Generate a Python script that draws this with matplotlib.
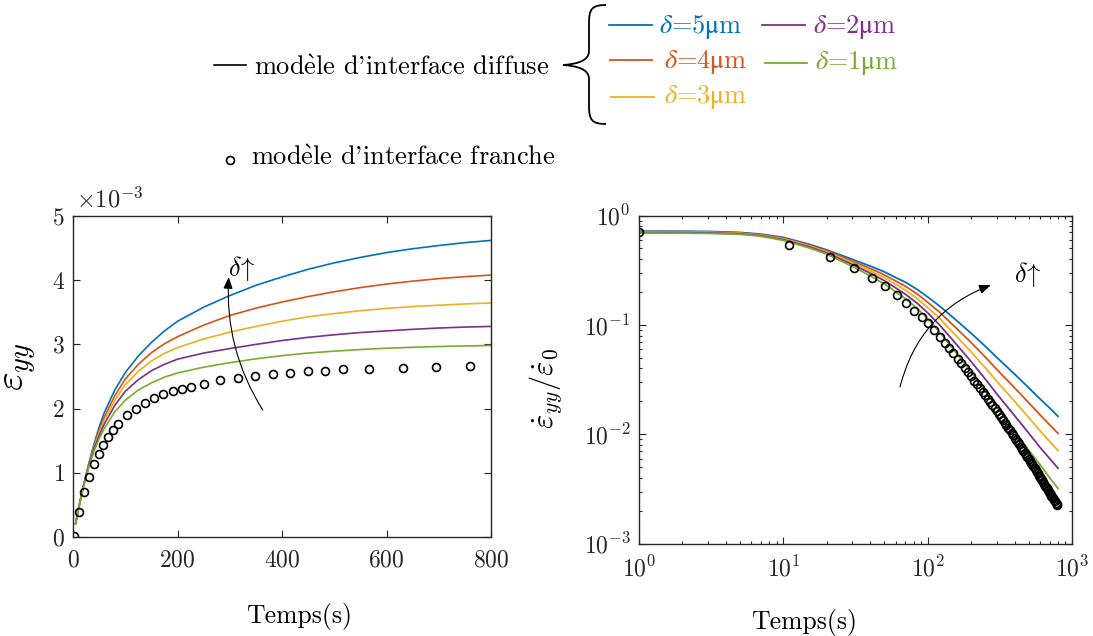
import numpy as np
import matplotlib
matplotlib.use('Agg')
import matplotlib.pyplot as plt
from matplotlib.lines import Line2D
from matplotlib.path import Path
from matplotlib.patches import PathPatch

plt.rcParams['font.family'] = ['cmr10', 'DejaVu Serif']
plt.rcParams['mathtext.fontset'] = 'cm'
plt.rcParams['axes.formatter.use_mathtext'] = True
plt.rcParams['axes.unicode_minus'] = True

# ---- data ----
deltas = ['5', '4', '3', '2', '1']
colors = ['#0072BD', '#D95319', '#EDB120', '#7E2F8E', '#77AC30']

# left panel : strain (x 1e-3) vs time
t_strain = [5, 10, 20, 30, 40, 50, 60, 80, 100, 125, 150, 175, 200, 250, 300, 350, 400, 450, 500,
            550, 600, 650, 700, 750, 800]
eps_d5 = [0.21, 0.42, 0.80, 1.14, 1.44, 1.71, 1.94, 2.29, 2.56, 2.82, 3.03, 3.21, 3.36, 3.58, 3.76,
          3.92, 4.05, 4.17, 4.27, 4.355, 4.43, 4.49, 4.54, 4.585, 4.62]
eps_d4 = [0.21, 0.42, 0.80, 1.12, 1.41, 1.66, 1.87, 2.20, 2.46, 2.69, 2.87, 3.01, 3.12, 3.30, 3.45,
          3.565, 3.66, 3.745, 3.82, 3.885, 3.94, 3.985, 4.025, 4.055, 4.08]
eps_d3 = [0.21, 0.42, 0.79, 1.11, 1.39, 1.62, 1.82, 2.13, 2.37, 2.58, 2.74, 2.86, 2.95, 3.085, 3.19,
          3.28, 3.36, 3.43, 3.48, 3.525, 3.56, 3.59, 3.61, 3.63, 3.645]
eps_d2 = [0.21, 0.42, 0.79, 1.10, 1.37, 1.58, 1.76, 2.05, 2.27, 2.45, 2.59, 2.69, 2.77, 2.865, 2.935,
          3.00, 3.06, 3.11, 3.15, 3.185, 3.21, 3.235, 3.255, 3.27, 3.28]
eps_d1 = [0.21, 0.42, 0.78, 1.08, 1.33, 1.53, 1.69, 1.95, 2.13, 2.29, 2.40, 2.49, 2.555, 2.645, 2.715,
          2.775, 2.825, 2.865, 2.895, 2.92, 2.94, 2.955, 2.967, 2.976, 2.983]

t_sharp = [1, 11.5, 21, 30.6, 40, 49, 58, 67, 76.5, 86, 103, 121, 138, 155.5, 173, 190.6, 208, 225,
           250, 282, 316, 349, 382.5, 416, 449, 483, 516, 567, 632, 695, 759]
eps_sharp = [0.01, 0.39, 0.70, 0.94, 1.13, 1.30, 1.44, 1.56, 1.66, 1.76, 1.90, 2.00, 2.09, 2.16, 2.22, 2.27,
             2.31, 2.34, 2.39, 2.44, 2.48, 2.51, 2.54, 2.56, 2.58, 2.59, 2.61, 2.62, 2.64, 2.65, 2.67]

# right panel : normalised strain rate vs time (log-log)
t_rate = [1, 2, 3, 5, 7, 10, 15, 20, 30, 40, 50, 60, 70, 85, 100, 120, 150, 200, 250, 300, 400, 500,
          600, 700, 800]
rate_d5 = [0.719, 0.718, 0.715, 0.700, 0.676, 0.631, 0.547, 0.485, 0.398, 0.345, 0.306, 0.271, 0.246,
           0.210, 0.180, 0.150, 0.117, 0.0839, 0.0640, 0.0507, 0.0355, 0.0267, 0.0211, 0.0174, 0.0146]
rate_d4 = [0.712, 0.711, 0.707, 0.693, 0.669, 0.621, 0.537, 0.475, 0.384, 0.328, 0.287, 0.252, 0.226,
           0.191, 0.161, 0.132, 0.0997, 0.0690, 0.0510, 0.0394, 0.0266, 0.0195, 0.0151, 0.0122, 0.0102]
rate_d3 = [0.705, 0.704, 0.701, 0.687, 0.661, 0.612, 0.528, 0.464, 0.371, 0.312, 0.271, 0.235, 0.208,
           0.173, 0.144, 0.116, 0.0851, 0.0567, 0.0407, 0.0307, 0.0200, 0.0143, 0.0108, 0.0086, 0.0071]
rate_d2 = [0.698, 0.697, 0.693, 0.680, 0.654, 0.602, 0.518, 0.454, 0.357, 0.297, 0.254, 0.218, 0.191,
           0.157, 0.129, 0.101, 0.0721, 0.0462, 0.0321, 0.0236, 0.0148, 0.0103, 0.0076, 0.0060, 0.0049]
rate_d1 = [0.690, 0.689, 0.686, 0.673, 0.646, 0.592, 0.507, 0.443, 0.343, 0.281, 0.237, 0.201, 0.174,
           0.141, 0.114, 0.0873, 0.0603, 0.0371, 0.0249, 0.0178, 0.0107, 0.0072, 0.0053, 0.0040, 0.0032]

t_rate_sharp = list(range(1, 800, 10))
rate_sharp = [0.705, 0.537, 0.414, 0.331, 0.271, 0.225, 0.188, 0.159, 0.135, 0.118,
              0.103, 0.0894, 0.0782, 0.0690, 0.0613, 0.0548, 0.0493, 0.0445, 0.0405, 0.0369,
              0.0338, 0.0310, 0.0286, 0.0264, 0.0245, 0.0227, 0.0212, 0.0197, 0.0185, 0.0173,
              0.0162, 0.0153, 0.0144, 0.0136, 0.0128, 0.0121, 0.0115, 0.0109, 0.0103, 0.0098,
              0.0093, 0.0089, 0.0085, 0.0081, 0.0077, 0.0074, 0.0071, 0.0068, 0.0065, 0.0062,
              0.0060, 0.0057, 0.0055, 0.0053, 0.0051, 0.0049, 0.0047, 0.0045, 0.0044, 0.0042,
              0.0041, 0.0039, 0.0038, 0.0037, 0.0035, 0.0034, 0.0033, 0.0032, 0.0031, 0.0030,
              0.0029, 0.0028, 0.00275, 0.00266, 0.00259, 0.00251, 0.00244, 0.00237, 0.00230, 0.00224]

eps_curves = [eps_d5, eps_d4, eps_d3, eps_d2, eps_d1]
rate_curves = [rate_d5, rate_d4, rate_d3, rate_d2, rate_d1]

# ---- figure ----
W, H = 1093, 636
fig = plt.figure(figsize=(W / 100, H / 100), dpi=100)
axc = '#262626'


def fx(x):
    return x / W


def fy(y):
    return 1 - y / H


def style_axes(ax):
    ax.tick_params(which='both', direction='in', top=True, right=True, colors=axc,
                   labelsize=17, width=0.8)
    ax.tick_params(which='major', length=5)
    ax.tick_params(which='minor', length=2.5)
    for s in ax.spines.values():
        s.set_linewidth(1.0)
        s.set_color(axc)


arrow_kw = dict(arrowstyle='-|>,head_length=0.5,head_width=0.2', color='k', lw=0.8,
                shrinkA=0, shrinkB=0, mutation_scale=14)

# left panel
ax1 = fig.add_axes([fx(73), fy(537), 418 / W, 321 / H])
for vals, c in zip(eps_curves, colors):
    ax1.plot(t_strain, vals, color=c, lw=1.2)
ax1.plot(t_sharp, eps_sharp, 'o', mfc='none', mec='k', ms=5.7, mew=1.2)
ax1.set_xlim(0, 800)
ax1.set_ylim(0, 5)
ax1.set_xticks([0, 200, 400, 600, 800])
ax1.set_yticks([0, 1, 2, 3, 4, 5])
style_axes(ax1)
ax1.tick_params(axis='x', pad=9)
ax1.tick_params(axis='y', pad=6)
ax1.set_xlabel('Temps(s)', fontsize=18.5)
ax1.xaxis.set_label_coords(0.54, -0.205)
ax1.set_ylabel(r'$\varepsilon_{yy}$', fontsize=29, va='center', ha='center')
ax1.yaxis.set_label_coords(-0.125, 0.53)
fig.text(fx(76), fy(207), r'$\times\mathdefault{10^{-3}}$', fontsize=17.5, color=axc, va='baseline')

ax1.annotate('', xy=(298, 4.05), xytext=(363, 1.98),
             arrowprops=dict(connectionstyle='arc3,rad=-0.16', **arrow_kw))
ax1.text(323, 4.19, r'$\delta\!\uparrow$', fontsize=19, ha='center', va='center')

# right panel
ax2 = fig.add_axes([fx(639), fy(543.7), 433 / W, 328.2 / H])
for vals, c in zip(rate_curves, colors):
    ax2.plot(t_rate, vals, color=c, lw=1.3)
ax2.plot(t_rate_sharp, rate_sharp, 'o', mfc='none', mec='k', ms=5.7, mew=1.2)
ax2.set_xscale('log')
ax2.set_yscale('log')
ax2.set_xlim(1, 1000)
ax2.set_ylim(1e-3, 1)
style_axes(ax2)
ax2.tick_params(axis='x', pad=9)
ax2.tick_params(axis='y', pad=6)
ax2.set_xlabel('Temps(s)', fontsize=18.5)
ax2.xaxis.set_label_coords(0.381, -0.2)
ax2.set_ylabel(r'$\dot{\varepsilon}_{yy}/\dot{\varepsilon}_0$', fontsize=22, va='center', ha='center')
ax2.yaxis.set_label_coords(-0.217, 0.474)

ax2.annotate('', xy=(274, 0.231), xytext=(64.3, 0.0271),
             arrowprops=dict(connectionstyle='arc3,rad=-0.26', **arrow_kw))
ax2.text(490, 0.29, r'$\delta\!\uparrow$', fontsize=19, ha='center', va='center')

# ---- legend block at the top ----
fs_leg = 19
fig.add_artist(Line2D([fx(214), fx(246)], [fy(65), fy(65)], color='k', lw=1.2))
fig.text(fx(254), fy(75), r"mod$\grave{\mathrm{e}}$le d'interface diffuse", fontsize=fs_leg, va='baseline')

# curly brace
bx_tip, bx_mid, bx_end = 563, 589, 606
by_top, by_mid, by_bot = 5, 65, 124
verts = [(bx_end, by_top), (bx_mid + 3, by_top), (bx_mid, by_top + 4), (bx_mid, by_top + 18),
         (bx_mid, by_mid - 14),
         (bx_mid, by_mid - 4), (bx_tip + 14, by_mid - 1), (bx_tip, by_mid),
         (bx_tip + 14, by_mid + 1), (bx_mid, by_mid + 4), (bx_mid, by_mid + 14),
         (bx_mid, by_bot - 18),
         (bx_mid, by_bot - 4), (bx_mid + 3, by_bot), (bx_end, by_bot)]
codes = [Path.MOVETO, Path.CURVE4, Path.CURVE4, Path.CURVE4,
         Path.LINETO,
         Path.CURVE4, Path.CURVE4, Path.CURVE4,
         Path.CURVE4, Path.CURVE4, Path.CURVE4,
         Path.LINETO,
         Path.CURVE4, Path.CURVE4, Path.CURVE4]
brace = Path([(fx(x), fy(y)) for x, y in verts], codes)
fig.add_artist(PathPatch(brace, transform=fig.transFigure, fc='none', ec='k', lw=1.3))

# colored entries: (line x0, line x1, line y, text x, text baseline)
leg_pos = [(609, 652, 25, 659, 33), (610, 652, 60, 664, 68), (611, 654, 97, 664, 103),
           (762, 805, 25, 813, 33), (765, 807, 63, 815, 69)]
for d, c, (x0, x1, ly, tx, ty) in zip(deltas, colors, leg_pos):
    fig.add_artist(Line2D([fx(x0), fx(x1)], [fy(ly), fy(ly)], color=c, lw=1.3))
    fig.text(fx(tx), fy(ty), r'$\delta$=' + d + r'$\mathrm{\mu}$m', fontsize=fs_leg, color=c,
             va='baseline', math_fontfamily='stix')

fig.add_artist(Line2D([fx(230)], [fy(160)], marker='o', mfc='none', mec='k', ms=5.7, mew=1.2, ls='none'))
fig.text(fx(251), fy(165), r"mod$\grave{\mathrm{e}}$le d'interface franche", fontsize=fs_leg, va='baseline')

fig.savefig('out.png', dpi=100)
